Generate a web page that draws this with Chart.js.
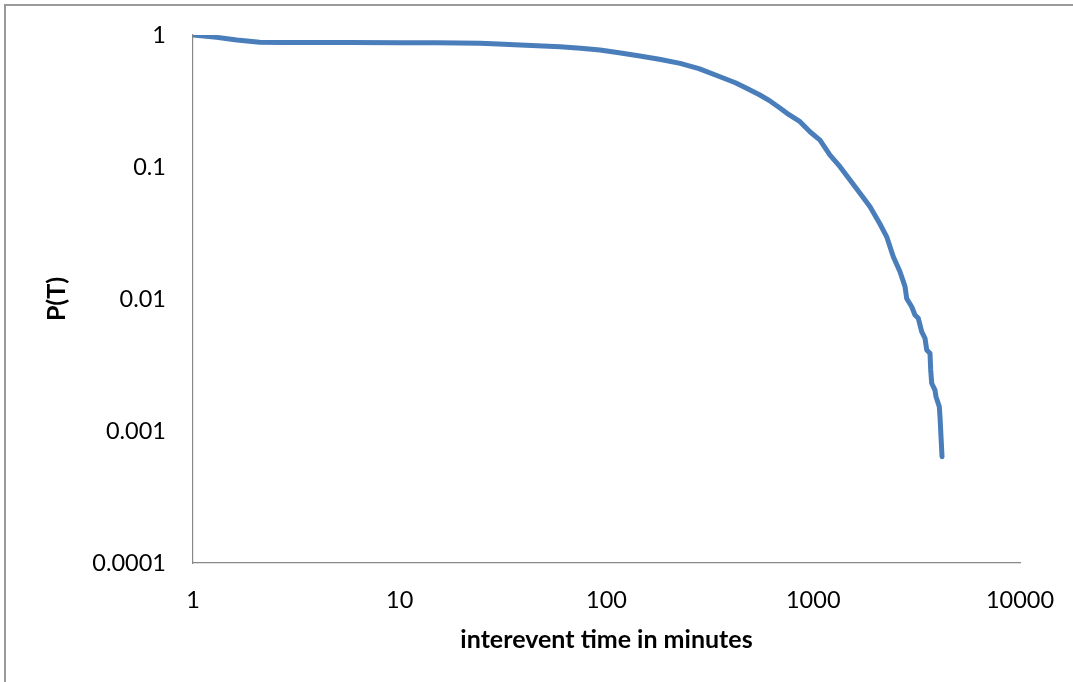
<!DOCTYPE html>
<html lang="en">
<head>
    <meta charset="UTF-8">
    <title>Interevent time distribution</title>
    <script src="https://cdn.jsdelivr.net/npm/chart.js@4.4.1/dist/chart.umd.min.js"></script>
    <style>
        html, body { margin: 0; padding: 0; background: #fff; overflow: hidden; }
        #frame {
            position: absolute; left: 4px; top: 4px; width: 1100px; height: 700px;
            border-top: 2px solid #9a9a9a; border-left: 2px solid #9a9a9a;
        }
        #wrap { position: absolute; left: 0; top: 0; width: 1073px; height: 682px; }
    </style>
</head>
<body>
    <div id="frame"></div>
    <div id="wrap"><canvas id="chart"></canvas></div>

    <script>
        // interevent time (minutes) and complementary cumulative probability P(T)
        const times = [1, 1.3, 1.63, 2.1, 2.7, 5.75, 10, 15, 24.4, 30, 38.2, 59.6, 75, 93, 115, 145, 180, 227, 280, 354, 420, 476, 552, 620, 690,
            760, 863, 964, 1078, 1205, 1347, 1506, 1683, 1882, 2103, 2266, 2439, 2628, 2779, 2831, 2994, 3105,
            3222, 3345, 3472, 3538, 3670, 3699, 3740, 3880, 3924, 4071, 4103, 4196];
        const probs = [1, 0.96, 0.917, 0.88, 0.877, 0.877, 0.875, 0.872, 0.865, 0.855, 0.84, 0.815, 0.795, 0.77, 0.735, 0.693, 0.655, 0.61, 0.557, 0.483, 0.435, 0.395, 0.351, 0.315, 0.28,
            0.25, 0.2205, 0.185, 0.16, 0.123, 0.1005, 0.0797, 0.0632, 0.05, 0.037, 0.0296, 0.0209, 0.0161, 0.0124, 0.0101, 0.00874, 0.00757,
            0.00714, 0.00565, 0.00504, 0.00411, 0.00388, 0.0029, 0.0023, 0.00204, 0.00182, 0.00153, 0.00128, 0.000639];

        const xTicks = [1, 10, 100, 1000, 10000];
        const xTickLabels = ['1', '10', '100', '1000', '10000'];
        const yTicks = [1, 0.1, 0.01, 0.001, 0.0001];
        const yTickLabels = ['1', '0.1', '0.01', '0.001', '0.0001'];

        const points = times.map((t, i) => ({ x: t, y: probs[i] }));
        const tickFont = { family: 'Lato', size: 23.5 };
        const titleFont = { family: 'Lato', size: 25, weight: 'bold' };

        new Chart(document.getElementById('chart'), {
            type: 'scatter',
            data: {
                datasets: [{
                    data: points,
                    showLine: true,
                    borderColor: '#4a7ebb',
                    borderWidth: 5,
                    borderCapStyle: 'round',
                    borderJoinStyle: 'round',
                    pointRadius: 0,
                    tension: 0
                }]
            },
            options: {
                responsive: true,
                maintainAspectRatio: false,
                animation: false,
                layout: { padding: { top: 35, right: 53, left: 0, bottom: 0 } },
                plugins: { legend: { display: false }, tooltip: { enabled: false } },
                scales: {
                    x: {
                        type: 'logarithmic',
                        min: 1, max: 10000,
                        afterBuildTicks: s => { s.ticks = xTicks.map(v => ({ value: v })); },
                        afterFit: s => { s.height = 119; s.paddingLeft = 0; s.paddingRight = 0; },
                        grid: { display: false, drawTicks: false },
                        border: { color: '#888', width: 1.2 },
                        ticks: {
                            color: '#000', font: tickFont, padding: 23, maxRotation: 0,
                            callback: (v, i) => xTickLabels[i]
                        },
                        title: {
                            display: true, text: 'interevent time in minutes',
                            color: '#000', font: titleFont, padding: { top: 0, bottom: 27.5 }
                        }
                    },
                    y: {
                        type: 'logarithmic',
                        min: 0.0001, max: 1,
                        afterBuildTicks: s => { s.ticks = yTicks.slice().reverse().map(v => ({ value: v })); },
                        afterFit: s => { s.width = 193; s.paddingTop = 0; s.paddingBottom = 0; },
                        grid: { display: false, drawTicks: false },
                        border: { color: '#888', width: 1.2 },
                        ticks: {
                            color: '#000', font: tickFont, padding: 27,
                            callback: v => yTickLabels[yTicks.indexOf(v)]
                        },
                        title: {
                            display: true, text: 'P(T)',
                            color: '#000', font: titleFont, padding: { top: 42, bottom: 0 }
                        }
                    }
                }
            }
        });
    </script>
</body>
</html>
